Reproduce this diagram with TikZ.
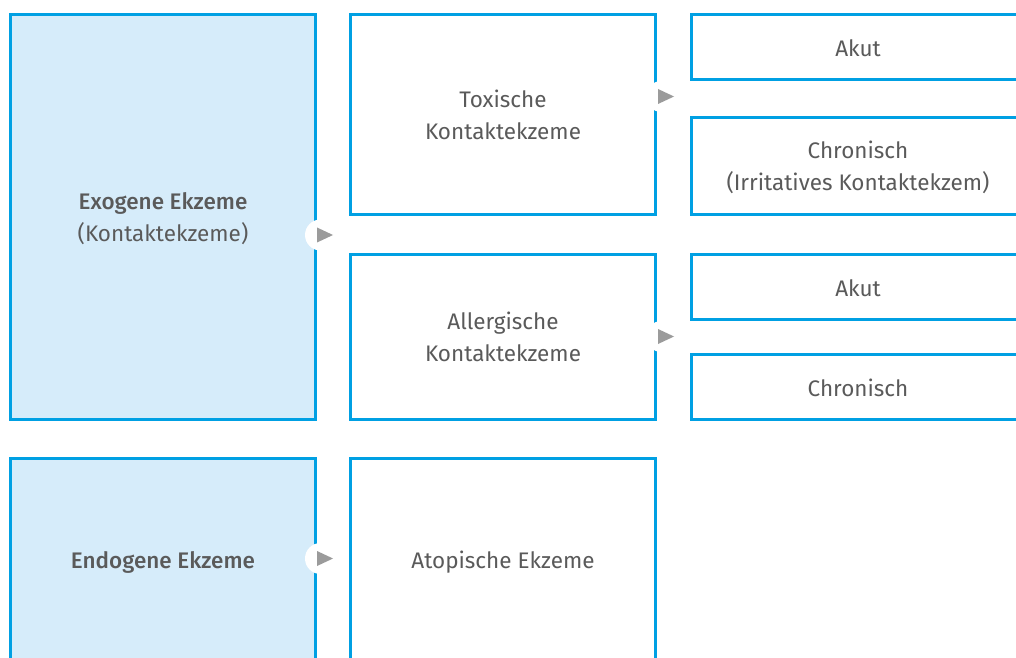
\documentclass[tikz,border=0pt]{standalone}
\usepackage{fontspec}
\setmainfont{Fira Sans}[BoldFont={Fira Sans Medium}]
\usetikzlibrary{positioning}

\definecolor{ekblue}{HTML}{00A0E3}
\definecolor{eklight}{HTML}{D6ECFA}
\definecolor{ektext}{HTML}{5A5A5A}
\definecolor{ektip}{HTML}{9B9B9B}

\tikzset{
  box/.style={draw=ekblue, line width=1.7pt, fill=white, align=center,
    text=ektext, font=\fontsize{12.8}{18}\selectfont, inner sep=0pt},
  oneline/.style={execute at begin node={\rule{0pt}{11pt}}},
  twoline/.style={text depth=0pt},
  mainbox/.style={box, fill=eklight, minimum width=6.1cm},
  midbox/.style={box, minimum width=6.1cm},
  sidebox/.style={box, minimum width=6.66cm},
  pointer/.style={circle, fill=white, minimum size=0.62cm, inner sep=0pt}
}

\newcommand{\tip}[1]{\fill[ektip] (#1) ++(-3.5,-7.5) -- ++(16,7.5) -- ++(-16,7.5) -- cycle;}

\begin{document}
\begin{tikzpicture}[x=0.02cm, y=-0.02cm]
  \useasboundingbox (0,0) rectangle (1016,658);
  \clip (0,0) rectangle (1016,658);

  % linke Spalte
  \node[mainbox, twoline, minimum height=8.1cm] (exo) at (163,217) {\textbf{Exogene Ekzeme}\\(Kontaktekzeme)};
  \node[mainbox, oneline, minimum height=4.1cm] (endo) at (163,561) {\textbf{Endogene Ekzeme}};

  % mittlere Spalte
  \node[midbox, twoline, minimum height=4cm] (tox) at (503,114.5) {Toxische\\Kontaktekzeme};
  \node[midbox, twoline, minimum height=3.3cm] (allerg) at (503,337) {Allergische\\Kontaktekzeme};
  \node[midbox, oneline, minimum height=4.1cm] (atop) at (503,561) {Atopische Ekzeme};

  % rechte Spalte
  \node[sidebox, oneline, minimum height=1.3cm] (toxakut) at (858,47) {Akut};
  \node[sidebox, twoline, minimum height=1.94cm] (toxchron) at (858,166) {Chronisch\\(Irritatives Kontaktekzem)};
  \node[sidebox, oneline, minimum height=1.3cm] (allakut) at (858,287) {Akut};
  \node[sidebox, oneline, minimum height=1.3cm] (allchron) at (858,387) {Chronisch};

  % Zeiger
  \node[pointer] (p1) at (320.5,235) {};
  \node[pointer] (p2) at (320.5,558.5) {};
  \node[pointer] (p3) at (661.5,96.5) {};
  \node[pointer] (p4) at (661.5,336.5) {};
  \tip{p1.center}
  \tip{p2.center}
  \tip{p3.center}
  \tip{p4.center}
\end{tikzpicture}
\end{document}
